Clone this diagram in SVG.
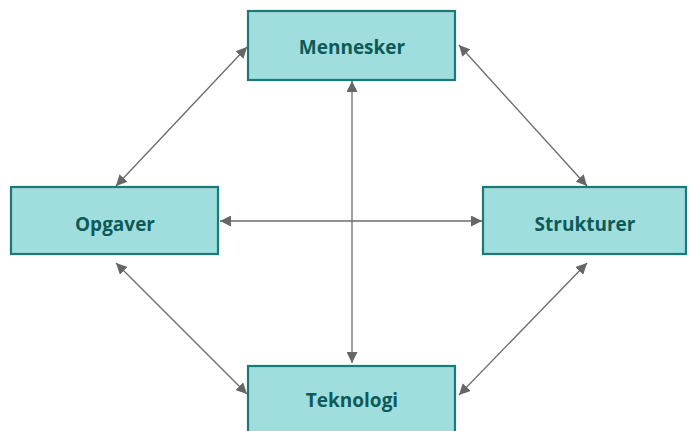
<svg xmlns="http://www.w3.org/2000/svg" width="689" height="431" viewBox="0 0 689 431">
<style>
.box{fill:#a0dede;stroke:#1a7a78;stroke-width:2.2}
.lbl{font-family:"Open Sans","Liberation Sans",sans-serif;font-weight:bold;font-size:19px;fill:#0d5a58;text-anchor:middle;dominant-baseline:central}
.con{stroke:#6b6b6b;stroke-width:1.3;fill:none;marker-start:url(#ah);marker-end:url(#ah)}
</style>
<defs>
<marker id="ah" viewBox="0 0 10 10" refX="10" refY="5" markerWidth="11" markerHeight="11" markerUnits="userSpaceOnUse" orient="auto-start-reverse">
<path d="M0,0 L10,5 L0,10 z" fill="#666"/>
</marker>
</defs>
<g id="connectors">
<line class="con" x1="247" y1="47" x2="116" y2="186"/>
<line class="con" x1="459" y1="45" x2="587" y2="186"/>
<line class="con" x1="220" y1="221" x2="482" y2="221"/>
<line class="con" x1="352" y1="81" x2="352" y2="363"/>
<line class="con" x1="116" y1="263" x2="247" y2="394"/>
<line class="con" x1="587" y1="263" x2="459" y2="395"/>
</g>
<g id="mennesker">
<rect class="box" x="248" y="11" width="207" height="69"/>
<text class="lbl" x="352" y="47">Mennesker</text>
</g>
<g id="opgaver">
<rect class="box" x="11" y="187" width="207" height="67"/>
<text class="lbl" x="115" y="224">Opgaver</text>
</g>
<g id="strukturer">
<rect class="box" x="483" y="187" width="203" height="67"/>
<text class="lbl" x="585" y="224">Strukturer</text>
</g>
<g id="teknologi">
<rect class="box" x="248" y="366" width="207" height="70"/>
<text class="lbl" x="352" y="400">Teknologi</text>
</g>
</svg>
